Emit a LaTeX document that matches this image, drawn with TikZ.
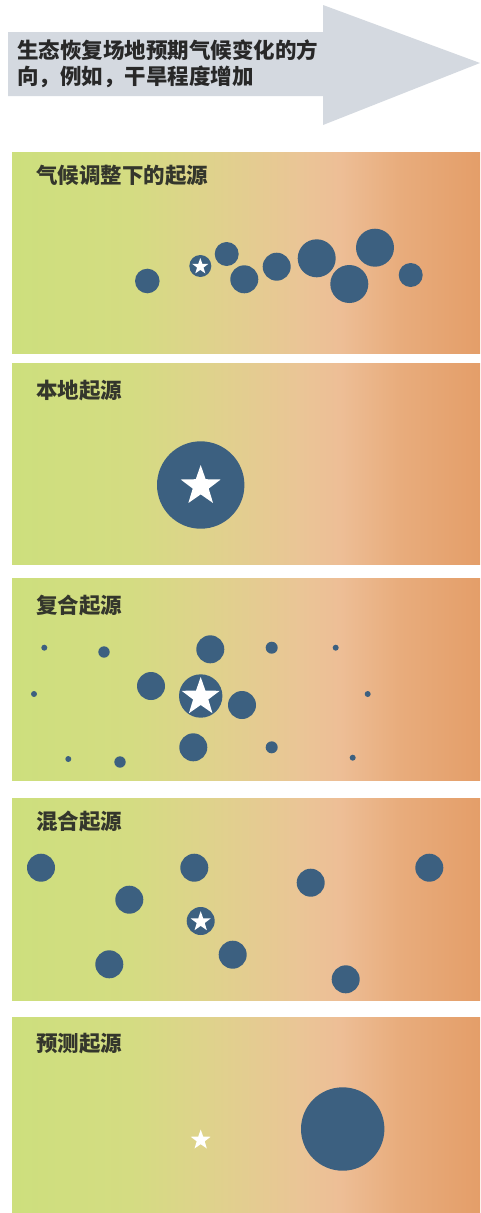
\documentclass[tikz,border=0pt]{standalone}
\usepackage{fontspec}
\newfontfamily\cjk{Noto Sans CJK SC}
\usetikzlibrary{shapes.geometric}
\definecolor{dotblue}{RGB}{60,96,128}
\definecolor{arrowcol}{RGB}{212,217,224}
\definecolor{titlecol}{RGB}{52,54,44}
\definecolor{arrowtext}{RGB}{40,40,40}
\definecolor{g0}{RGB}{205,223,125}
\definecolor{g1}{RGB}{212,220,130}
\definecolor{g2}{RGB}{223,210,140}
\definecolor{g3}{RGB}{234,197,150}
\definecolor{g4}{RGB}{237,190,150}
\definecolor{g5}{RGB}{232,172,124}
\definecolor{g6}{RGB}{228,158,105}
\pgfdeclarehorizontalshading{climate}{100bp}{color(0bp)=(g0); color(25bp)=(g0); color(37.6bp)=(g1); color(46.2bp)=(g2); color(55.8bp)=(g3); color(60bp)=(g4); color(66.5bp)=(g5); color(75bp)=(g6); color(100bp)=(g6)}
\begin{document}
\begin{tikzpicture}[x=1pt,y=-1pt,
  dot/.style={circle,fill=dotblue,inner sep=0pt,outer sep=0pt,draw=none},
  wstar/.style={star,star points=5,star point ratio=2.5,fill=white,inner sep=0pt,outer sep=0pt,draw=none,shape border rotate=0},
  ttl/.style={anchor=base west,inner sep=0pt,text=titlecol,font=\cjk\bfseries\fontsize{21.5}{26}\selectfont},
  arrtxt/.style={anchor=base west,inner sep=0pt,text=arrowtext,font=\cjk\bfseries\fontsize{21.5}{26}\selectfont},
  panel/.style={shading=climate,draw=none}]
\useasboundingbox (0,0) rectangle (480,1213);
\fill[white] (0,0) rectangle (480,1213);
% arrow
\fill[arrowcol] (8,32) -- (323,32) -- (323,5) -- (480,63) -- (323,125) -- (323,96) -- (8,96) -- cycle;
\node[arrtxt] (a1) at (17,58) {生态恢复场地预期气候变化的方};
\node[arrtxt] (a2) at (17,84) {向，例如，干旱程度增加};
% panels
\path[panel] (12,152) rectangle (480,353);
\path[panel] (12,363) rectangle (480,564);
\path[panel] (12,578) rectangle (480,780);
\path[panel] (12,798) rectangle (480,1000);
\path[panel] (12,1017) rectangle (480,1213);
% panel 1
\node[ttl] (t1) at (36,183) {气候调整下的起源};
\node[dot,minimum size=24.6pt] (p1a) at (147.3,281) {};
\node[dot,minimum size=22pt] (p1s) at (200.3,266) {};
\node[wstar,minimum size=17pt] (p1st) at (200.3,266.5) {};
\node[dot,minimum size=24pt] (p1b) at (226.7,254) {};
\node[dot,minimum size=28pt] (p1c) at (244.3,279.3) {};
\node[dot,minimum size=28pt] (p1d) at (276.7,266.7) {};
\node[dot,minimum size=38pt] (p1e) at (316.7,258.3) {};
\node[dot,minimum size=38pt] (p1f) at (349.3,284) {};
\node[dot,minimum size=38pt] (p1g) at (375,247.7) {};
\node[dot,minimum size=24pt] (p1h) at (410.7,275) {};
% panel 2
\node[ttl] (t2) at (36,398) {本地起源};
\node[dot,minimum size=87.4pt] (p2a) at (200.7,485) {};
\node[wstar,minimum size=42pt] (p2st) at (200.7,486) {};
% panel 3
\node[ttl] (t3) at (36,613) {复合起源};
\node[dot,minimum size=6pt] (p3a) at (44.3,647.7) {};
\node[dot,minimum size=11.4pt] (p3b) at (104,652) {};
\node[dot,minimum size=28pt] (p3c) at (210.3,649.3) {};
\node[dot,minimum size=12pt] (p3d) at (271.7,647.7) {};
\node[dot,minimum size=6pt] (p3e) at (335.7,647.7) {};
\node[dot,minimum size=6pt] (p3f) at (34,694) {};
\node[dot,minimum size=28pt] (p3g) at (151,686) {};
\node[dot,minimum size=43.4pt] (p3s) at (200.7,696) {};
\node[wstar,minimum size=40pt] (p3st) at (200.7,697) {};
\node[dot,minimum size=28pt] (p3h) at (242,705) {};
\node[dot,minimum size=6pt] (p3i) at (367.7,694) {};
\node[dot,minimum size=6pt] (p3j) at (68.3,759) {};
\node[dot,minimum size=11.4pt] (p3k) at (120,762) {};
\node[dot,minimum size=28pt] (p3l) at (193.3,747.3) {};
\node[dot,minimum size=12pt] (p3m) at (271.7,747.3) {};
\node[dot,minimum size=6pt] (p3n) at (352.7,757.7) {};
% panel 4
\node[ttl] (t4) at (36,829) {混合起源};
\node[dot,minimum size=28pt] (p4a) at (41,867.7) {};
\node[dot,minimum size=28pt] (p4b) at (194.3,867.7) {};
\node[dot,minimum size=28pt] (p4c) at (429.3,867.7) {};
\node[dot,minimum size=28pt] (p4d) at (310.7,882.7) {};
\node[dot,minimum size=28pt] (p4e) at (129.3,899.7) {};
\node[dot,minimum size=28pt] (p4s) at (200.7,921) {};
\node[wstar,minimum size=21pt] (p4st) at (200.7,921.7) {};
\node[dot,minimum size=28pt] (p4f) at (232.7,954.7) {};
\node[dot,minimum size=28pt] (p4g) at (109.3,964.3) {};
\node[dot,minimum size=28pt] (p4h) at (345.7,979.3) {};
% panel 5
\node[ttl] (t5) at (36,1051) {预测起源};
\node[wstar,minimum size=21pt] (p5st) at (200.7,1140) {};
\node[dot,minimum size=83.4pt] (p5a) at (342.7,1129) {};
\end{tikzpicture}
\end{document}
